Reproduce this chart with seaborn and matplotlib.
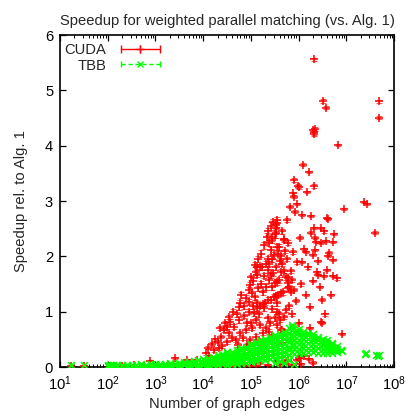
import numpy as np
import pandas as pd
import matplotlib
matplotlib.use("Agg")
import matplotlib.pyplot as plt
import seaborn as sns
from matplotlib.lines import Line2D
from matplotlib.legend_handler import HandlerLine2D, HandlerTuple
from matplotlib.ticker import LogLocator, MultipleLocator, NullFormatter

# CUDA speedup: log10(edges), speedup, error half-width
cuda_log_edges = [
    6.33, 6.50, 6.58, 7.69, 7.69, 6.31, 6.33, 6.34, 6.32, 6.83,
    6.09, 6.21, 5.90, 5.98, 6.00, 6.32, 6.18, 5.89, 5.90, 7.37,
    7.43, 5.81, 5.97, 6.95, 5.92, 6.08, 6.25, 6.60, 6.62, 5.55,
    5.53, 5.75, 6.33, 6.47, 6.53, 6.25, 6.75, 7.60, 5.45, 5.69,
    6.02, 6.35, 6.36, 6.47, 6.57, 6.71, 5.55, 6.11, 6.15, 6.35,
    6.64, 6.61, 5.89, 6.29, 5.96, 6.08, 6.40, 6.72, 5.83, 5.73,
    5.87, 5.77, 5.55, 6.38, 6.41, 6.53, 6.71, 6.29, 5.90, 5.83,
    6.68, 6.49, 5.73, 5.54, 6.24, 6.49, 6.24, 6.01, 5.55, 5.66,
    6.66, 6.11, 6.01, 6.22, 5.77, 5.65,
    5.54, 5.52, 5.52, 5.45, 5.69, 5.59, 5.38, 5.41, 5.35, 5.31,
    5.13, 5.24,
    5.38, 5.35, 5.20, 5.10, 5.13, 5.41, 5.38, 5.59, 5.77, 4.99,
    4.96, 5.03, 4.78, 4.75, 4.96, 5.13, 5.13, 5.35, 5.48, 5.62,
    5.27, 5.06, 4.96, 4.57, 4.64, 4.75, 4.89, 5.03, 5.10, 5.35,
    5.20, 4.43, 4.54, 4.78, 4.68, 4.99, 4.22, 4.33, 4.05, 4.12,
    5.62, 5.66, 5.45, 3.87,
    5.18, 5.25, 5.30, 5.42, 5.52, 5.57, 5.68, 5.77, 5.80,
    5.44, 5.50, 5.47, 5.52, 5.60, 5.44, 5.49, 5.28, 5.22, 5.15,
    5.08, 5.64, 5.66, 5.70,
    4.85, 4.92, 5.16, 5.25, 5.32, 5.40, 5.50, 5.58, 4.84, 4.92,
    4.72, 4.60, 4.49, 4.40, 4.30, 4.49, 4.38, 5.10, 5.18, 5.38,
    5.05, 5.00, 5.08, 5.15, 5.22, 5.28, 5.33, 5.36, 5.42, 5.47,
    5.50, 5.57, 5.62, 5.72, 5.75, 5.78, 5.65, 4.90, 4.85, 4.80,
    4.70, 4.62, 4.55, 4.45, 4.35, 4.25, 4.18, 4.10, 5.00, 5.05,
    5.25, 5.32, 5.45, 5.55, 5.60, 5.70, 5.80, 5.85, 5.95, 6.05,
    6.15, 6.20, 6.45, 6.55, 6.60, 6.80, 6.90,
    6.02, 5.97, 5.76, 5.52, 5.20, 4.99, 4.78, 4.50, 4.40, 6.47,
    2.89, 3.40, 3.66,
    1.22, 1.50, 2.05, 2.30, 2.55, 2.75, 3.05, 3.25, 3.55, 3.75,
    3.95, 4.15, 4.30, 4.62, 4.88, 5.10, 5.35, 5.60, 5.85, 6.05,
    6.30,
]
cuda_speedup = [
    5.56, 4.81, 4.69, 4.80, 4.51, 4.28, 4.24, 4.30, 4.21, 4.01,
    3.66, 3.52, 3.38, 3.27, 3.25, 3.27, 3.17, 3.14, 3.08, 2.99,
    2.94, 2.90, 2.94, 2.85, 2.81, 2.75, 2.73, 2.70, 2.68, 2.66,
    2.57, 2.66, 2.51, 2.51, 2.45, 2.43, 2.40, 2.43, 2.34, 2.31,
    2.34, 2.34, 2.26, 2.25, 2.28, 2.26, 2.17, 2.14, 2.08, 2.11,
    2.07, 2.01, 2.08, 2.02, 1.90, 1.90, 1.92, 1.93, 1.74, 1.62,
    1.57, 1.51, 1.54, 1.72, 1.66, 1.64, 1.64, 1.56, 1.40, 1.36,
    1.30, 1.22, 1.03, 1.00, 1.09, 0.80, 0.70, 0.79, 0.76, 0.67,
    0.31, 0.19, 0.16, 0.14, 0.13, 0.11,
    2.60, 2.51, 2.42, 2.30, 2.30, 2.17, 2.24, 2.11, 1.96, 1.87,
    1.81, 1.81,
    1.87, 1.75, 1.81, 1.72, 1.66, 1.66, 1.57, 1.57, 1.60, 1.48,
    1.39, 1.33, 1.15, 1.09, 1.18, 1.15, 1.06, 1.21, 1.27, 1.33,
    1.06, 0.97, 1.00, 0.82, 0.73, 0.85, 0.67, 0.70, 0.85, 0.88,
    0.76, 0.67, 0.61, 0.61, 0.49, 0.49, 0.31, 0.34, 0.25, 0.19,
    0.67, 0.43, 0.55, 0.13,
    1.10, 1.14, 1.16, 1.22, 1.29, 1.31, 1.35, 1.42, 1.45,
    1.44, 1.52, 1.70, 1.80, 1.92, 1.95, 2.02, 1.65, 1.50, 1.42,
    1.26, 2.00, 1.86, 1.74,
    0.92, 0.80, 0.95, 0.62, 0.70, 0.80, 0.88, 0.95, 0.52, 0.40,
    0.40, 0.52, 0.45, 0.38, 0.46, 0.72, 0.55, 0.55, 0.45, 0.64,
    1.55, 1.62, 1.85, 1.95, 2.05, 2.20, 2.35, 2.45, 2.55, 2.62,
    2.40, 2.05, 1.72, 2.10, 1.95, 2.25, 2.45, 1.25, 1.10, 1.30,
    0.95, 1.00, 0.90, 0.80, 0.70, 0.50, 0.42, 0.35, 0.80, 1.10,
    1.35, 1.45, 1.05, 1.15, 0.85, 0.90, 1.10, 0.95, 1.20, 1.50,
    1.30, 1.80, 1.45, 0.95, 1.75, 1.60, 0.60,
    0.19, 0.13, 0.10, 0.10, 0.07, 0.02, 0.04, 0.02, 0.07, 0.82,
    0.10, 0.16, 0.13,
    0.02, 0.02, 0.02, 0.01, 0.03, 0.02, 0.03, 0.02, 0.04, 0.03,
    0.05, 0.03, 0.01, 0.01, 0.03, 0.02, 0.03, 0.04, 0.03, 0.05,
    0.08,
]
cuda_err = [
    0.03, 0.03, 0.03, 0.02, 0.02, 0.03, 0.04, 0.03, 0.03, 0.02,
    0.02, 0.02, 0.04, 0.03, 0.03, 0.03, 0.02, 0.03, 0.03, 0.02,
    0.02, 0.03, 0.02, 0.02, 0.03, 0.02, 0.02, 0.02, 0.02, 0.06,
    0.06, 0.04, 0.02, 0.02, 0.02, 0.02, 0.02, 0.02, 0.07, 0.03,
    0.02, 0.02, 0.02, 0.02, 0.02, 0.02, 0.05, 0.02, 0.02, 0.02,
    0.02, 0.02, 0.03, 0.02, 0.03, 0.02, 0.02, 0.02, 0.04, 0.04,
    0.03, 0.04, 0.05, 0.02, 0.02, 0.02, 0.02, 0.02, 0.03, 0.03,
    0.02, 0.02, 0.03, 0.04, 0.02, 0.02, 0.02, 0.02, 0.03, 0.03,
    0.02, 0.02, 0.02, 0.02, 0.02, 0.02,
    0.06, 0.08, 0.08, 0.06, 0.04, 0.05, 0.06, 0.06, 0.05, 0.05,
    0.04, 0.05,
    0.05, 0.05, 0.05, 0.04, 0.04, 0.05, 0.05, 0.05, 0.04, 0.05,
    0.05, 0.05, 0.06, 0.06, 0.05, 0.05, 0.05, 0.05, 0.05, 0.04,
    0.04, 0.04, 0.04, 0.05, 0.05, 0.05, 0.04, 0.04, 0.04, 0.04,
    0.04, 0.04, 0.04, 0.04, 0.04, 0.04, 0.03, 0.03, 0.03, 0.03,
    0.03, 0.03, 0.03, 0.02,
    0.04, 0.04, 0.04, 0.05, 0.05, 0.05, 0.04, 0.04, 0.04,
    0.05, 0.05, 0.05, 0.05, 0.05, 0.06, 0.06, 0.05, 0.05, 0.05,
    0.05, 0.04, 0.04, 0.04,
    0.04, 0.04, 0.04, 0.04, 0.04, 0.04, 0.04, 0.04, 0.04, 0.03,
    0.03, 0.04, 0.03, 0.03, 0.03, 0.04, 0.03, 0.04, 0.03, 0.04,
    0.05, 0.05, 0.05, 0.06, 0.06, 0.06, 0.07, 0.07, 0.07, 0.06,
    0.06, 0.05, 0.05, 0.04, 0.04, 0.04, 0.04, 0.05, 0.05, 0.05,
    0.05, 0.05, 0.04, 0.04, 0.04, 0.03, 0.03, 0.03, 0.04, 0.05,
    0.05, 0.05, 0.05, 0.05, 0.04, 0.04, 0.04, 0.03, 0.03, 0.03,
    0.02, 0.02, 0.02, 0.02, 0.02, 0.02, 0.02,
    0.02, 0.02, 0.02, 0.02, 0.02, 0.02, 0.02, 0.02, 0.02, 0.02,
    0.02, 0.02, 0.02,
    0.01, 0.01, 0.01, 0.01, 0.01, 0.01, 0.01, 0.01, 0.01, 0.01,
    0.02, 0.02, 0.02, 0.02, 0.02, 0.02, 0.02, 0.02, 0.02, 0.02,
    0.02,
]

# TBB speedup: log10(edges), speedup
tbb_log_edges = [
    1.22, 1.50,
    2.00, 2.00, 2.02, 2.05, 2.05, 2.10, 2.10, 2.20, 2.20, 2.30, 2.30,
    2.40, 2.40, 2.50, 2.50, 2.60, 2.60, 2.70, 2.70, 2.80, 2.80, 2.90, 2.90,
    3.00, 3.00, 3.00, 3.10, 3.10, 3.20, 3.20, 3.20, 3.30, 3.30, 3.30,
    3.40, 3.40, 3.50, 3.50, 3.50, 3.60, 3.60, 3.60, 3.70, 3.70, 3.70,
    3.80, 3.80, 3.80, 3.90, 3.90, 3.90, 4.00, 4.00, 4.00,
    4.10, 4.10, 4.10, 4.10, 4.20, 4.20, 4.20, 4.20,
    4.30, 4.30, 4.30, 4.30, 4.30, 4.40, 4.40, 4.40, 4.40, 4.40,
    4.50, 4.50, 4.50, 4.50, 4.50, 4.50, 4.60, 4.60, 4.60, 4.60, 4.60,
    4.70, 4.70, 4.70, 4.70, 4.70, 4.70, 4.80, 4.80, 4.80, 4.80, 4.80, 4.80,
    4.90, 4.90, 4.90, 4.90, 4.90, 4.90,
    5.00, 5.00, 5.00, 5.00, 5.00, 5.00, 5.00,
    5.10, 5.10, 5.10, 5.10, 5.10, 5.10, 5.10,
    5.20, 5.20, 5.20, 5.20, 5.20, 5.20, 5.20,
    5.30, 5.30, 5.30, 5.30, 5.30, 5.30, 5.30,
    5.40, 5.40, 5.40, 5.40, 5.40, 5.40, 5.40,
    5.50, 5.50, 5.50, 5.50, 5.50, 5.50, 5.50, 5.50,
    5.60, 5.60, 5.60, 5.60, 5.60, 5.60, 5.60, 5.60,
    5.70, 5.70, 5.70, 5.70, 5.70, 5.70, 5.70, 5.70,
    5.80, 5.80, 5.80, 5.80, 5.80, 5.80, 5.80, 5.80,
    5.85, 5.85, 5.85, 5.85, 5.85, 5.85,
    5.90, 5.90, 5.90, 5.90, 5.90, 5.90, 5.90, 5.90,
    6.00, 6.00, 6.00, 6.00, 6.00, 6.00, 6.00,
    6.10, 6.10, 6.10, 6.10, 6.10, 6.10,
    6.20, 6.20, 6.20, 6.20, 6.20, 6.20,
    6.30, 6.30, 6.30, 6.30, 6.30, 6.30,
    6.40, 6.40, 6.40, 6.40, 6.40,
    6.50, 6.50, 6.50, 6.50, 6.50,
    6.60, 6.60, 6.60, 6.60, 6.60,
    6.70, 6.70, 6.70, 6.70, 6.70,
    6.80, 6.80, 6.80,
    6.89, 6.91, 7.40, 7.42, 7.62, 7.66, 7.68,
]
tbb_speedup = [
    0.04, 0.04,
    0.02, 0.04, 0.00, 0.03, 0.01, 0.02, 0.04, 0.01, 0.03, 0.02, 0.04,
    0.00, 0.03, 0.02, 0.04, 0.01, 0.03, 0.02, 0.05, 0.00, 0.03, 0.02, 0.05,
    0.01, 0.04, 0.06, 0.02, 0.05, 0.03, 0.06, 0.01, 0.02, 0.05, 0.07,
    0.03, 0.06, 0.01, 0.04, 0.08, 0.03, 0.07, 0.09, 0.02, 0.05, 0.09,
    0.04, 0.08, 0.11, 0.02, 0.06, 0.12, 0.03, 0.08, 0.14,
    0.05, 0.10, 0.16, 0.02, 0.04, 0.09, 0.14, 0.18,
    0.03, 0.07, 0.12, 0.17, 0.21, 0.05, 0.10, 0.15, 0.20, 0.24,
    0.04, 0.09, 0.14, 0.19, 0.25, 0.28, 0.06, 0.11, 0.16, 0.22, 0.28,
    0.05, 0.10, 0.15, 0.20, 0.26, 0.31, 0.07, 0.12, 0.18, 0.24, 0.30, 0.34,
    0.08, 0.14, 0.20, 0.26, 0.32, 0.37,
    0.09, 0.15, 0.21, 0.27, 0.33, 0.39, 0.42,
    0.10, 0.17, 0.23, 0.29, 0.35, 0.41, 0.45,
    0.12, 0.18, 0.25, 0.31, 0.37, 0.43, 0.48,
    0.13, 0.20, 0.27, 0.34, 0.40, 0.46, 0.51,
    0.15, 0.22, 0.29, 0.36, 0.43, 0.49, 0.54,
    0.16, 0.24, 0.31, 0.38, 0.45, 0.52, 0.57, 0.08,
    0.18, 0.26, 0.33, 0.40, 0.47, 0.54, 0.60, 0.10,
    0.20, 0.28, 0.35, 0.42, 0.50, 0.57, 0.64, 0.07,
    0.22, 0.30, 0.37, 0.45, 0.53, 0.61, 0.70, 0.12,
    0.27, 0.40, 0.55, 0.66, 0.76, 0.72,
    0.24, 0.32, 0.40, 0.48, 0.56, 0.63, 0.71, 0.06,
    0.25, 0.33, 0.41, 0.49, 0.57, 0.64, 0.68,
    0.26, 0.34, 0.42, 0.50, 0.58, 0.64,
    0.27, 0.35, 0.43, 0.51, 0.57, 0.62,
    0.27, 0.35, 0.42, 0.49, 0.55, 0.60,
    0.26, 0.34, 0.41, 0.48, 0.54,
    0.26, 0.33, 0.40, 0.46, 0.51,
    0.25, 0.32, 0.38, 0.44, 0.48,
    0.26, 0.31, 0.36, 0.41, 0.44,
    0.28, 0.33, 0.38,
    0.31, 0.29, 0.24, 0.25, 0.21, 0.20, 0.22,
]

assert len(cuda_log_edges) == len(cuda_speedup) == len(cuda_err)
assert len(tbb_log_edges) == len(tbb_speedup)

cuda = pd.DataFrame({"edges": 10 ** np.array(cuda_log_edges),
                     "speedup": cuda_speedup, "err": cuda_err})
tbb = pd.DataFrame({"edges": 10 ** np.array(tbb_log_edges),
                    "speedup": tbb_speedup})

sns.set_style("ticks")
plt.rcParams["font.family"] = ["Liberation Sans", "DejaVu Sans"]
fs = 10.6
plt.rcParams["font.size"] = fs

fig = plt.figure(figsize=(4.14, 4.18), dpi=100)
ax = fig.add_axes([0.145, 0.122, 0.807, 0.794])

# CUDA: error bars then markers, TBB drawn on top
ax.errorbar(cuda["edges"], cuda["speedup"], yerr=cuda["err"], fmt="none",
            ecolor="red", elinewidth=0.8, capsize=2.5, capthick=0.8, alpha=0.65)
sns.scatterplot(data=cuda, x="edges", y="speedup", marker="+", color="red",
                s=32, linewidth=1.1, ax=ax, zorder=3)
sns.scatterplot(data=tbb, x="edges", y="speedup", marker="x", color="#00ff00",
                s=24, linewidth=1.2, ax=ax, zorder=4)

ax.set_xscale("log")
ax.set_xlim(10, 1e8)
ax.set_ylim(0, 6)
ax.yaxis.set_major_locator(MultipleLocator(1))
ax.xaxis.set_major_locator(LogLocator(base=10, numticks=10))
ax.xaxis.set_minor_locator(LogLocator(base=10, subs=np.arange(2, 10), numticks=20))
ax.xaxis.set_minor_formatter(NullFormatter())

ax.tick_params(which="both", direction="in", top=True, right=True, colors="black",
               labelsize=fs)
ax.tick_params(which="major", length=4.5, width=0.9)
ax.tick_params(which="minor", length=2.5, width=0.7)
ax.tick_params(axis="x", which="major", pad=5.5)
ax.tick_params(axis="y", which="major", pad=5)
for side in ax.spines.values():
    side.set_linewidth(1.2)
    side.set_color("black")

ax.set_title("Speedup for weighted parallel matching (vs. Alg. 1)", fontsize=fs, pad=7)
ax.set_xlabel("Number of graph edges", fontsize=fs, labelpad=3)
ax.set_ylabel("Speedup rel. to Alg. 1", fontsize=fs, labelpad=12)

# gnuplot-like key
cuda_line = Line2D([], [], color="red", lw=1, marker="|", markersize=6, mew=1)
cuda_mark = Line2D([], [], color="red", ls="none", marker="+", markersize=6, mew=1)
tbb_line = Line2D([], [], color="#00ff00", lw=1, ls=(0, (3, 2)), marker="|",
                  markersize=4, mew=1)
tbb_mark = Line2D([], [], color="#00ff00", ls="none", marker="x", markersize=5, mew=1)
ax.legend([(cuda_line, cuda_mark), (tbb_line, tbb_mark)], ["CUDA", "TBB"],
          handler_map={cuda_line: HandlerLine2D(numpoints=3),
                       cuda_mark: HandlerLine2D(numpoints=1),
                       tbb_line: HandlerLine2D(numpoints=2),
                       tbb_mark: HandlerLine2D(numpoints=1),
                       tuple: HandlerTuple(ndivide=1, pad=0)},
          loc="upper left", frameon=False, markerfirst=False, handlelength=3.2,
          handletextpad=0.7, labelspacing=0.1, borderpad=0.2,
          borderaxespad=0.0, bbox_to_anchor=(0.005, 0.985),
          fontsize=fs)

fig.savefig("out.png", dpi=100)
